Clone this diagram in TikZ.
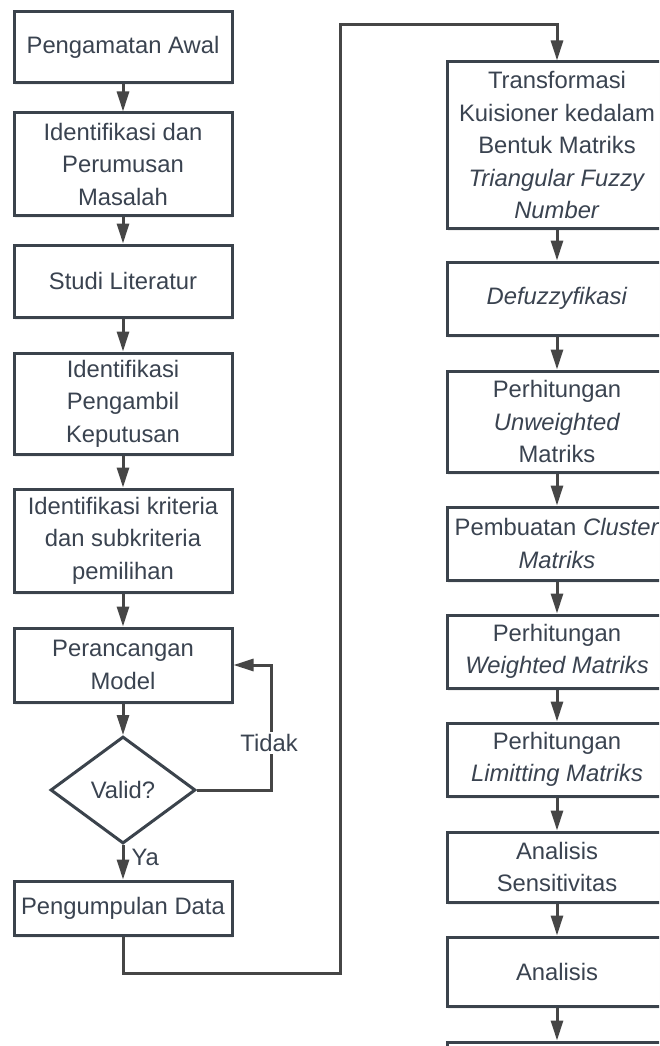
\documentclass[tikz,border=0pt]{standalone}
\usepackage{fontspec}
\setmainfont{Liberation Sans}
\usetikzlibrary{arrows.meta,shapes.geometric,shadows}
\definecolor{bord}{HTML}{3B434C}
\definecolor{txt}{HTML}{3A4350}
\definecolor{conn}{HTML}{464646}
\begin{document}
\begin{tikzpicture}[x=1pt,y=-1pt,
  basefont/.style={font=\fontsize{23.8pt}{32.5pt}\selectfont, text=txt},
  stepbox/.style={basefont, draw=bord, line width=3pt, fill=white, align=center, inner sep=0pt,
     drop shadow={opacity=0.12, shadow xshift=1pt, shadow yshift=-2.5pt}},
  lbox/.style={stepbox, minimum width=218pt},
  rbox/.style={stepbox, minimum width=220pt},
  decision/.style={basefont, diamond, draw=bord, line width=3pt, fill=white, inner sep=0pt,
     minimum width=145pt, minimum height=107pt},
  lbl/.style={basefont, inner sep=1pt},
  arr/.style={draw=conn, line width=3pt, -{Triangle[length=20pt,width=12pt]}},
  ln/.style={draw=conn, line width=3pt}
]
\useasboundingbox (0,0) rectangle (659,1046);
\begin{scope}
\clip (0,0) rectangle (659,1046);
\fill[white] (0,0) rectangle (659,1046);
% left column
\node[lbox, minimum height=71pt]  (a1) at (123,47.5) {Pengamatan Awal};
\node[lbox, minimum height=102pt] (a2) at (123,164) {Identifikasi dan\\Perumusan\\Masalah};
\node[lbox, minimum height=72pt]  (a3) at (123,281) {Studi Literatur};
\node[lbox, minimum height=101pt] (a4) at (123,403.5) {Identifikasi\\Pengambil\\Keputusan};
\node[lbox, minimum height=103pt] (a5) at (123,540.5) {Identifikasi kriteria\\dan subkriteria\\pemilihan};
\node[lbox, minimum height=74pt]  (a6) at (123,665) {Perancangan\\Model};
\node[decision] (dia) at (123,790) {Valid?};
\node[lbox, minimum height=54pt]  (a7) at (123,908) {Pengumpulan Data};
% right column
\node[rbox, minimum height=166pt] (r1) at (557,145) {Transformasi\\Kuisioner kedalam\\Bentuk Matriks\\\textit{Triangular Fuzzy}\\\textit{Number}};
\node[rbox, minimum height=73pt]  (r2) at (557,298.5) {\textit{Defuzzyfikasi}};
\node[rbox, minimum height=101pt] (r3) at (557,421.5) {Perhitungan\\\textit{Unweighted}\\Matriks};
\node[rbox, minimum height=73pt]  (r4) at (557,543.5) {Pembuatan \textit{Cluster}\\\textit{Matriks}};
\node[rbox, minimum height=73pt]  (r5) at (557,651.5) {Perhitungan\\\textit{Weighted Matriks}};
\node[rbox, minimum height=73pt]  (r6) at (557,759.5) {Perhitungan\\\textit{Limitting Matriks}};
\node[rbox, minimum height=70pt]  (r7) at (557,867) {Analisis\\Sensitivitas};
\node[rbox, minimum height=69pt]  (r8) at (557,971.5) {Analisis};
\node[rbox, minimum height=70pt]  (r9) at (557,1077) {};
% connectors left
\draw[arr] (a1) -- (a2);
\draw[arr] (a2) -- (a3);
\draw[arr] (a3) -- (a4);
\draw[arr] (a4) -- (a5);
\draw[arr] (a5) -- (a6);
\draw[arr] (a6) -- (dia);
\draw[arr] (dia.south) -- (a7.north) node[lbl, pos=0.35, anchor=west, xshift=6pt] (ya) {Ya};
\draw[arr] (dia.east) -- ++(74,0) |- (a6.east);
\node[lbl, fill=white, inner sep=2pt] (tidak) at (269,743) {Tidak};
% link between columns
\coordinate (b1) at (340,973);
\coordinate (b2) at (340,25);
\draw[arr] (a7.south) |- (b1) -- (b2) -| (r1.north);
% connectors right
\draw[arr] (r1) -- (r2);
\draw[arr] (r2) -- (r3);
\draw[arr] (r3) -- (r4);
\draw[arr] (r4) -- (r5);
\draw[arr] (r5) -- (r6);
\draw[arr] (r6) -- (r7);
\draw[arr] (r7) -- (r8);
\draw[arr] (r8) -- (r9);
\end{scope}
\end{tikzpicture}
\end{document}
